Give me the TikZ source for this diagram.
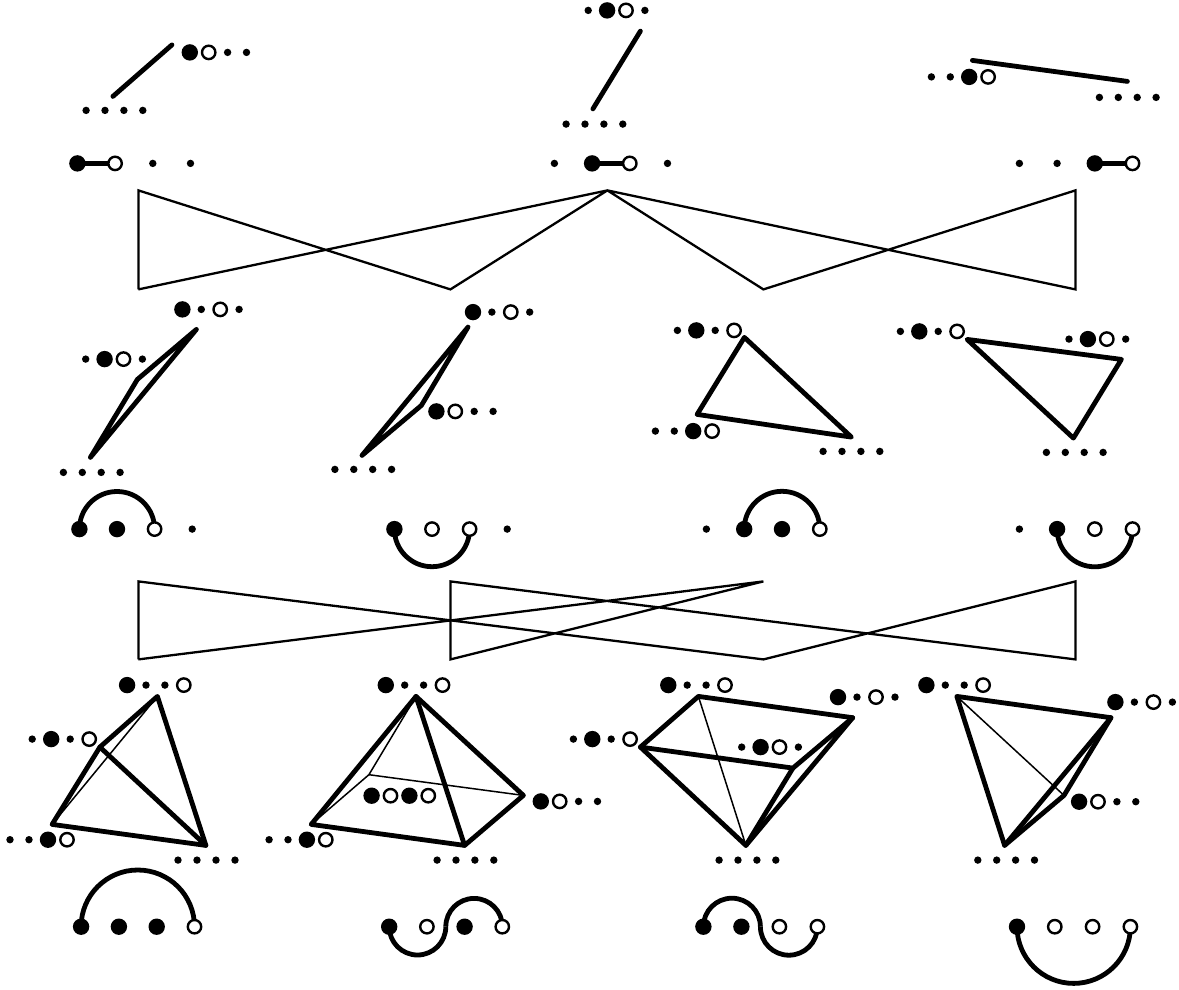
\documentclass[tikz,border=0pt]{standalone}
\pgfdeclarelayer{under}
\pgfsetlayers{under,main}
\tikzset{
  blackdot/.style={circle,fill=black,inner sep=0pt,minimum size=16.4pt,outer sep=0pt},
  opendot/.style={circle,draw=black,line width=2.4pt,fill=white,inner sep=0pt,minimum size=13.4pt,outer sep=0pt},
  tinydot/.style={circle,fill=black,inner sep=0pt,minimum size=7.4pt,outer sep=0pt},
  heavy/.style={line width=4.8pt,line join=round,line cap=round},
  seam/.style={line width=4.8pt,line cap=butt},
  hasse/.style={line width=2.3pt,line join=miter},
  hairline/.style={line width=1.5pt,line join=round},
}
% name, x of first dot, y, spacing, kinds
\newcommand\dotrow[5]{%
  \foreach \k [count=\i] in {#5} {%
    \pgfmathsetmacro\xx{#2+(\i-1)*#4}%
    \edef\mk{\noexpand\node[\k] (#1-\i) at (\xx,#3) {};}\mk
  }%
}
\begin{document}
\begin{tikzpicture}[x=1pt,y=-1pt]
\useasboundingbox (-0.4,-0.4) rectangle (1178.6,989.6);
% ---- row 1 polytopes
\coordinate (a1) at (112.5,96); \coordinate (a2) at (171.5,44.5);
\coordinate (b1) at (592.5,108.5); \coordinate (b2) at (640,30.7);
\coordinate (c1) at (972,60); \coordinate (c2) at (1127,81);
\draw[heavy] (a1) -- (a2);
\draw[heavy] (b1) -- (b2);
\draw[heavy] (c1) -- (c2);
\dotrow{la}{189.4}{52}{18.9}{blackdot,opendot,tinydot,tinydot}
\dotrow{lb}{85.7}{110}{18.9}{tinydot,tinydot,tinydot,tinydot}
\dotrow{lc}{587.8}{10}{18.9}{tinydot,blackdot,opendot,tinydot}
\dotrow{ld}{565.7}{123.7}{18.9}{tinydot,tinydot,tinydot,tinydot}
\dotrow{le}{931}{76.5}{18.9}{tinydot,tinydot,blackdot,opendot}
\dotrow{lf}{1099}{97}{18.9}{tinydot,tinydot,tinydot,tinydot}
% ---- row 1 chords
\dotrow{ca}{77}{163}{37.7}{blackdot,opendot,tinydot,tinydot}
\dotrow{cb}{554}{163}{37.7}{tinydot,blackdot,opendot,tinydot}
\dotrow{cc}{1019}{163}{37.7}{tinydot,tinydot,blackdot,opendot}
\begin{pgfonlayer}{under}
\draw[heavy] (ca-1.center) -- (ca-2.center);
\draw[heavy] (cb-2.center) -- (cb-3.center);
\draw[heavy] (cc-3.center) -- (cc-4.center);
\end{pgfonlayer}
% ---- first lattice
\coordinate (ht1) at (138,190); \coordinate (ht2) at (607,190); \coordinate (ht3) at (1075,190);
\coordinate (hb1) at (138,289); \coordinate (hb2) at (450,289); \coordinate (hb3) at (763,289); \coordinate (hb4) at (1075,289);
\draw[hasse] (hb1) -- (ht1) -- (hb2) -- (ht2) -- (hb3) -- (ht3) -- (hb4) -- (ht2) -- (hb1);
% ---- row 2 polygons
\coordinate (p1a) at (196,329); \coordinate (p1b) at (137,379); \coordinate (p1c) at (90,457);
\draw[heavy] (p1a) -- (p1b) -- (p1c) -- cycle;
\dotrow{ma}{182}{309}{18.9}{blackdot,tinydot,opendot,tinydot}
\dotrow{mb}{85.3}{358.7}{18.9}{tinydot,blackdot,opendot,tinydot}
\dotrow{mc}{63}{472}{18.9}{tinydot,tinydot,tinydot,tinydot}
\coordinate (p2a) at (467.6,326.7); \coordinate (p2b) at (421,405); \coordinate (p2c) at (361.6,455);
\draw[heavy] (p2a) -- (p2b) -- (p2c) -- cycle;
\dotrow{md}{472.6}{311.7}{18.9}{blackdot,tinydot,opendot,tinydot}
\dotrow{me}{436}{411}{18.9}{blackdot,opendot,tinydot,tinydot}
\dotrow{mf}{334.5}{469}{18.9}{tinydot,tinydot,tinydot,tinydot}
\coordinate (p3a) at (744,337); \coordinate (p3b) at (696.7,414); \coordinate (p3c) at (851,436.7);
\draw[heavy] (p3a) -- (p3b) -- (p3c) -- cycle;
\dotrow{mg}{677}{330}{18.9}{tinydot,blackdot,tinydot,opendot}
\dotrow{mh}{655}{430.7}{18.9}{tinydot,tinydot,blackdot,opendot}
\dotrow{mi}{822.7}{451}{18.9}{tinydot,tinydot,tinydot,tinydot}
\coordinate (p4a) at (966.7,339); \coordinate (p4b) at (1121,359); \coordinate (p4c) at (1073,437.7);
\draw[heavy] (p4a) -- (p4b) -- (p4c) -- cycle;
\dotrow{mj}{900}{331}{18.9}{tinydot,blackdot,tinydot,opendot}
\dotrow{mk}{1068.6}{338.7}{18.9}{tinydot,blackdot,opendot,tinydot}
\dotrow{ml}{1046}{452}{18.9}{tinydot,tinydot,tinydot,tinydot}
% ---- row 2 chords
\dotrow{da}{79}{528.7}{37.6}{blackdot,blackdot,opendot,tinydot}
\dotrow{db}{394}{528.7}{37.6}{blackdot,opendot,opendot,tinydot}
\dotrow{dc}{706}{528.7}{37.8}{tinydot,blackdot,blackdot,opendot}
\dotrow{dd}{1019}{528.7}{37.7}{tinydot,blackdot,opendot,opendot}
\begin{pgfonlayer}{under}
\draw[heavy] (da-1.center) arc[start angle=180,delta angle=-180,radius=37.6pt];
\draw[heavy] (db-1.center) arc[start angle=180,delta angle=180,radius=37.6pt];
\draw[heavy] (dc-2.center) arc[start angle=180,delta angle=-180,radius=37.8pt];
\draw[heavy] (dd-2.center) arc[start angle=180,delta angle=180,radius=37.7pt];
\end{pgfonlayer}
% ---- second lattice
\coordinate (kt1) at (138,581); \coordinate (kt2) at (450,581); \coordinate (kt3) at (763,581); \coordinate (kt4) at (1075,581);
\coordinate (kb1) at (138,659); \coordinate (kb2) at (450,659); \coordinate (kb3) at (763,659); \coordinate (kb4) at (1075,659);
\draw[hasse] (kb1) -- (kt1) -- (kb3) -- (kt4) -- (kb4) -- (kt2) -- (kb2) -- (kt3) -- (kb1);
% ---- row 3 polytope 1
\coordinate (qa) at (157,696); \coordinate (qb) at (99.5,746.7); \coordinate (qc) at (51.7,824); \coordinate (qd) at (205.5,845);
\draw[hairline] (qa) -- (qc);
\draw[heavy] (qa) -- (qb) -- (qc) -- (qd) -- cycle;
\draw[heavy] (qb) -- (qd);
\dotrow{na}{126.7}{684.7}{18.9}{blackdot,tinydot,tinydot,opendot}
\dotrow{nb}{31.8}{738.7}{19}{tinydot,blackdot,tinydot,opendot}
\dotrow{nc}{9.6}{839.3}{19}{tinydot,tinydot,blackdot,opendot}
\dotrow{nd}{177.6}{859.7}{19}{tinydot,tinydot,tinydot,tinydot}
% ---- row 3 polytope 2
\coordinate (ra) at (415.6,696); \coordinate (rc) at (310.8,824); \coordinate (rd) at (464.2,845); \coordinate (re) at (523,795); \coordinate (rf) at (368.5,774.3);
\draw[hairline] (ra) -- (rf) -- (rc);
\draw[hairline] (rf) -- (re);
\draw[heavy] (ra) -- (rc) -- (rd) -- (re) -- cycle;
\draw[heavy] (ra) -- (rd);
\dotrow{oa}{385.4}{684.7}{18.9}{blackdot,tinydot,tinydot,opendot}
\dotrow{ob}{371.2}{795.3}{18.9}{blackdot,opendot,blackdot,opendot}
\dotrow{oc}{540.4}{801}{18.9}{blackdot,opendot,tinydot,tinydot}
\dotrow{od}{268.7}{839.3}{18.9}{tinydot,tinydot,blackdot,opendot}
\dotrow{oe}{436.7}{859.7}{18.9}{tinydot,tinydot,tinydot,tinydot}
% ---- row 3 polytope 3
\coordinate (sg) at (698,696); \coordinate (sh) at (852.3,717.3); \coordinate (si) at (640,746.7); \coordinate (sj) at (792.5,767.7); \coordinate (sk) at (745.5,845);
\draw[hairline] (sg) -- (sk);
\draw[heavy] (sg) -- (sh) -- (sk) -- (si) -- cycle;
\draw[heavy] (si) -- (sj) -- (sh);
\draw[heavy] (sj) -- (sk);
\dotrow{ta}{667.9}{684.7}{18.9}{blackdot,tinydot,tinydot,opendot}
\dotrow{tb}{573}{738.7}{18.9}{tinydot,blackdot,tinydot,opendot}
\dotrow{tc}{837.6}{696.7}{19}{blackdot,tinydot,opendot,tinydot}
\dotrow{td}{741.3}{746.7}{18.9}{tinydot,blackdot,opendot,tinydot}
\dotrow{te}{718.7}{859.7}{18.9}{tinydot,tinydot,tinydot,tinydot}
% ---- row 3 polytope 4
\coordinate (ul) at (956.4,696); \coordinate (um) at (1110.6,717.3); \coordinate (un) at (1063.6,795); \coordinate (uo) at (1004.2,845);
\draw[hairline] (ul) -- (un);
\draw[heavy] (ul) -- (um) -- (uo) -- cycle;
\draw[heavy] (um) -- (un) -- (uo);
\dotrow{va}{926}{684.7}{18.9}{blackdot,tinydot,tinydot,opendot}
\dotrow{vb}{1115}{701.7}{19}{blackdot,tinydot,opendot,tinydot}
\dotrow{vc}{1078.7}{801.3}{18.9}{blackdot,opendot,tinydot,tinydot}
\dotrow{vd}{977.4}{859.7}{18.9}{tinydot,tinydot,tinydot,tinydot}
% ---- row 3 chords
\dotrow{ea}{80.7}{926.3}{37.8}{blackdot,blackdot,blackdot,opendot}
\dotrow{eb}{388.8}{926.3}{37.7}{blackdot,opendot,blackdot,opendot}
\dotrow{ec}{703}{926.3}{38}{blackdot,blackdot,opendot,opendot}
\dotrow{ed}{1016.6}{926.3}{37.8}{blackdot,opendot,opendot,opendot}
\coordinate (em) at (445.4,926.3);
\coordinate (fm) at (760,926.3);
\begin{pgfonlayer}{under}
\draw[heavy] (ea-1.center) arc[start angle=180,delta angle=-180,radius=56.7pt];
\draw[seam] (eb-1.center) arc[start angle=180,delta angle=180,radius=28.3pt];
\draw[seam] (em) arc[start angle=180,delta angle=-180,radius=28.3pt];
\draw[seam] (ec-1.center) arc[start angle=180,delta angle=-180,radius=28.5pt];
\draw[seam] (fm) arc[start angle=180,delta angle=180,radius=28.5pt];
\draw[heavy] (ed-1.center) arc[start angle=180,delta angle=180,radius=56.7pt];
\end{pgfonlayer}
\end{tikzpicture}
\end{document}
